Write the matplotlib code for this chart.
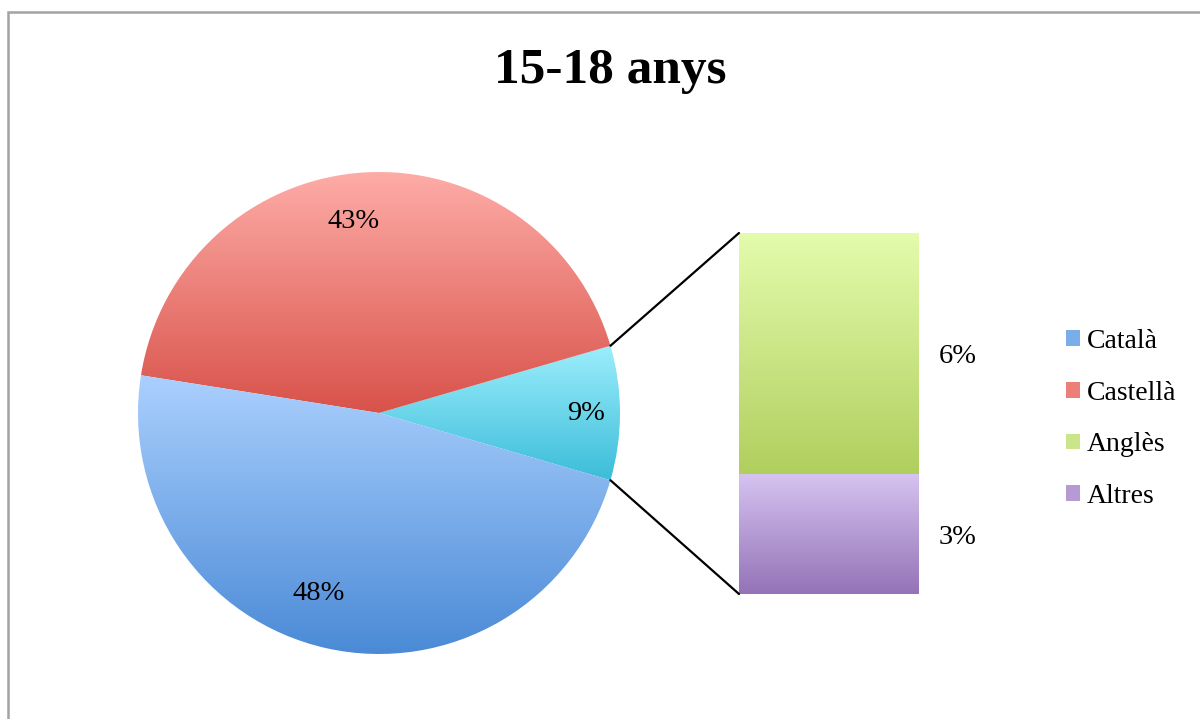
import numpy as np
import matplotlib
matplotlib.use("Agg")
import matplotlib.pyplot as plt
from matplotlib.colors import LinearSegmentedColormap
from matplotlib.patches import Patch, Rectangle, ConnectionPatch

plt.rcParams['font.family'] = ['Liberation Serif', 'DejaVu Serif']

title = "15-18 anys"
categories = ["Català", "Castellà", "Anglès", "Altres"]
values = [48, 43, 6, 3]
pie_labels = ["48%", "43%", "9%"]
bar_labels = ["6%", "3%"]

# gradient colours (top, bottom)
grad_catala = ("#abd0fe", "#4a8ad6")
grad_castella = ("#feaca7", "#d8524a")
grad_other = ("#9ceefc", "#3cbdd9")
grad_angles = ("#e3fcad", "#b0cf5e")
grad_altres = ("#d6c4f1", "#9473b7")

fig = plt.figure(figsize=(12, 7.19), dpi=100)

# outer chart frame
fig.add_artist(Rectangle((8 / 1200, -0.1), 1.2, 1 - 12 / 719 + 0.1,
                         transform=fig.transFigure, fill=False,
                         ec="#a3a3a3", lw=1.8))

fig.text(610 / 1200, 1 - 71 / 719, title, ha="center", va="center",
         fontsize=37, fontweight="bold")


def fill_gradient(ax, patch, top, bottom):
    x0, y0, x1, y1 = patch.get_path().get_extents(patch.get_patch_transform()).extents
    cmap = LinearSegmentedColormap.from_list("g", [bottom, top])
    grad = np.linspace(0, 1, 256).reshape(-1, 1)
    im = ax.imshow(grad, cmap=cmap, aspect="auto", origin="lower",
                   extent=[x0, x1, y0, y1], zorder=patch.get_zorder())
    im.set_clip_path(patch)
    patch.set_alpha(0)


# pie of main parts, the small ones grouped
other = values[2] + values[3]
pie_vals = [other, values[1], values[0]]
ax1 = fig.add_axes([(379 - 241) / 1200, (719 - 413 - 241) / 719,
                    482 / 1200, 482 / 719])
start = -other / sum(pie_vals) * 360 / 2
wedges, _ = ax1.pie(pie_vals, startangle=start, counterclock=True,
                    wedgeprops=dict(linewidth=0))
ax1.set_xlim(-1, 1)
ax1.set_ylim(-1, 1)
ax1.set_aspect("equal")
ax1.axis("off")

for w, g in zip(wedges, [grad_other, grad_castella, grad_catala]):
    fill_gradient(ax1, w, *g)

# pie labels
label_r = [0.86, 0.80, 0.79]
label_shift = [0, 4, -6]
for w, lab, r, s in zip(wedges, [pie_labels[2], pie_labels[1], pie_labels[0]],
                        label_r, label_shift):
    ang = np.deg2rad((w.theta1 + w.theta2) / 2 + s)
    ax1.text(r * np.cos(ang), r * np.sin(ang), lab, ha="center",
             va="center", fontsize=20.5, zorder=5)

# stacked bar of the small parts
ax2 = fig.add_axes([739 / 1200, (719 - 594) / 719, 180 / 1200, 361 / 719])
b_altres = ax2.bar([0], [values[3]], width=1, linewidth=0)
b_angles = ax2.bar([0], [values[2]], bottom=[values[3]], width=1, linewidth=0)
ax2.set_xlim(-0.5, 0.5)
ax2.set_ylim(0, other)
ax2.axis("off")
fill_gradient(ax2, b_angles[0], *grad_angles)
fill_gradient(ax2, b_altres[0], *grad_altres)

ax2.text(0.61, values[3] + values[2] / 2 - 0.09, bar_labels[0],
         ha="left", va="center", fontsize=20.5)
ax2.text(0.61, values[3] / 2 - 0.08, bar_labels[1],
         ha="left", va="center", fontsize=20.5)

# connector lines
w0 = wedges[0]
for ang, yb in [(w0.theta2, other), (w0.theta1, 0)]:
    a = np.deg2rad(ang)
    con = ConnectionPatch(xyA=(np.cos(a), np.sin(a)), coordsA=ax1.transData,
                          xyB=(-0.5, yb), coordsB=ax2.transData,
                          color="black", lw=1.6)
    fig.add_artist(con)

# legend
handles = [Patch(facecolor=c) for c in
           ["#7aaeea", "#ec7f78", "#cbe68a", "#b59ad4"]]
fig.legend(handles, categories, loc="upper left",
           bbox_to_anchor=(1055 / 1200, 1 - 318 / 719), frameon=False,
           fontsize=20, handlelength=0.5, handleheight=0.5,
           handletextpad=0.25, labelspacing=0.96, borderaxespad=0)

fig.savefig("out.png", dpi=100)
